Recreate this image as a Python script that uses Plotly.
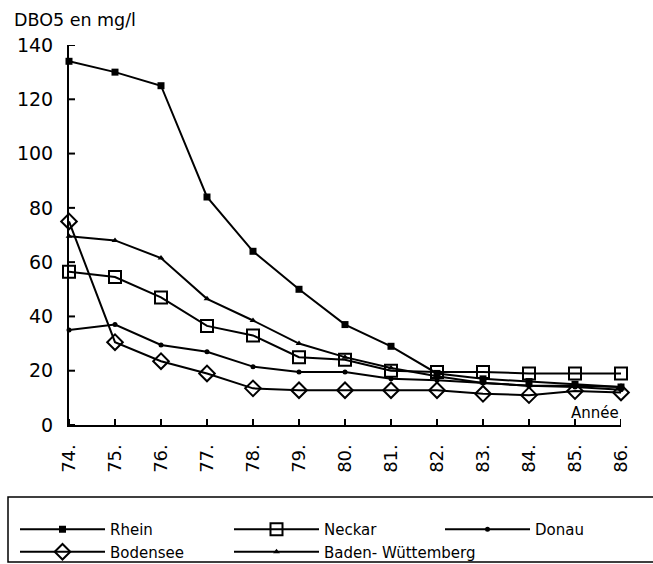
import plotly.graph_objects as go

years = [74, 75, 76, 77, 78, 79, 80, 81, 82, 83, 84, 85, 86]
year_labels = ["74.", "75.", "76.", "77.", "78.", "79.", "80.", "81.", "82.", "83.", "84.", "85.", "86."]
y_ticks = [0, 20, 40, 60, 80, 100, 120, 140]

rhein = [134, 130, 125, 84, 64, 50, 37, 29, 19, 17, 16, 15, 14]
neckar = [56.5, 54.5, 47, 36.5, 33, 25, 24, 20, 19.5, 19.5, 19, 19, 19]
donau = [35, 37, 29.5, 27, 21.5, 19.5, 19.5, 17, 16.5, 15.5, 14.5, 14, 13]
bodensee = [75, 30.5, 23.5, 19, 13.5, 12.8, 12.8, 12.8, 12.8, 11.5, 11, 12.5, 12]
baden = [69.5, 68, 61.5, 46.5, 38.5, 30, 25, 21, 18, 15.5, 14.5, 14.5, 14]

FONT = "DejaVu Sans"

# (name, values, marker, legend id)
series = [
    ("Rhein", rhein, dict(symbol="square", size=7, color="black"), "legend"),
    ("Neckar", neckar, dict(symbol="square-open", size=12, color="black", line=dict(width=2)), "legend2"),
    ("Donau", donau, dict(symbol="circle", size=5, color="black"), "legend3"),
    ("Bodensee", bodensee, dict(symbol="diamond-open", size=12, color="black", line=dict(width=2)), "legend"),
    ("Baden- Wüttemberg", baden, dict(symbol="triangle-up", size=6, color="black"), "legend2"),
]

fig = go.Figure()
for name, vals, mk, lg in series:
    fig.add_trace(go.Scatter(
        x=years, y=vals, name=name, mode="lines+markers", legend=lg,
        line=dict(color="black", width=2), marker=mk, cliponaxis=False,
    ))

axis_common = dict(showgrid=False, zeroline=False, showline=True, linecolor="black",
                   linewidth=2, ticks="", ticklabelstandoff=10)

legend_common = dict(
    orientation="v", xref="container", yref="container", xanchor="left", yanchor="top",
    borderwidth=0, bgcolor="rgba(0,0,0,0)", itemwidth=85, tracegroupgap=5,
    font=dict(family=FONT, size=15),
)
LEG_TOP = 1 - 513 / 564

# crossing tick marks ("+") on both axes, anchored at the axis values
tick_shapes = []
for v in years:
    tick_shapes.append(dict(type="line", xref="x", yref="y", x0=v, x1=v,
                            ysizemode="pixel", yanchor=0, y0=-6, y1=6,
                            line=dict(color="black", width=2)))
for v in y_ticks:
    tick_shapes.append(dict(type="line", xref="x", yref="y", y0=v, y1=v,
                            xsizemode="pixel", xanchor=years[0], x0=-6, x1=6,
                            line=dict(color="black", width=2)))

legend_box = dict(type="rect", xref="paper", yref="paper",
                  x0=(8 - 69) / 552, x1=(665 - 69) / 552,
                  y0=(425 - 562) / 380, y1=(425 - 497) / 380,
                  line=dict(color="black", width=1.5), layer="below")

fig.update_layout(
    width=653, height=564,
    margin=dict(l=69, r=32, t=45, b=139, autoexpand=False),
    paper_bgcolor="white", plot_bgcolor="white",
    font=dict(family=FONT, size=15, color="black"),
    showlegend=True,
    legend=dict(x=15 / 653, y=LEG_TOP, **legend_common),
    legend2=dict(x=229 / 653, y=LEG_TOP, **legend_common),
    legend3=dict(x=440 / 653, y=LEG_TOP, **legend_common),
    xaxis=dict(range=[74, 86], tickmode="array", tickvals=years, ticktext=year_labels,
               tickangle=-90, tickfont=dict(size=18), **axis_common),
    yaxis=dict(range=[0, 140], tickmode="array", tickvals=y_ticks,
               tickfont=dict(size=19), **axis_common),
    shapes=tick_shapes + [legend_box],
    annotations=[
        dict(text="DBO5 en mg/l", xref="paper", yref="paper", x=-0.103, y=(425 - 20) / 380,
             xanchor="left", yanchor="middle", showarrow=False, font=dict(size=17.5)),
        dict(text="Année", xref="x", yref="y", x=86, y=4.5, xanchor="right",
             yanchor="middle", showarrow=False, font=dict(size=15)),
    ],
)

fig.write_html("out.html", config={"displayModeBar": False},
               post_script="document.body.style.margin='0';")
